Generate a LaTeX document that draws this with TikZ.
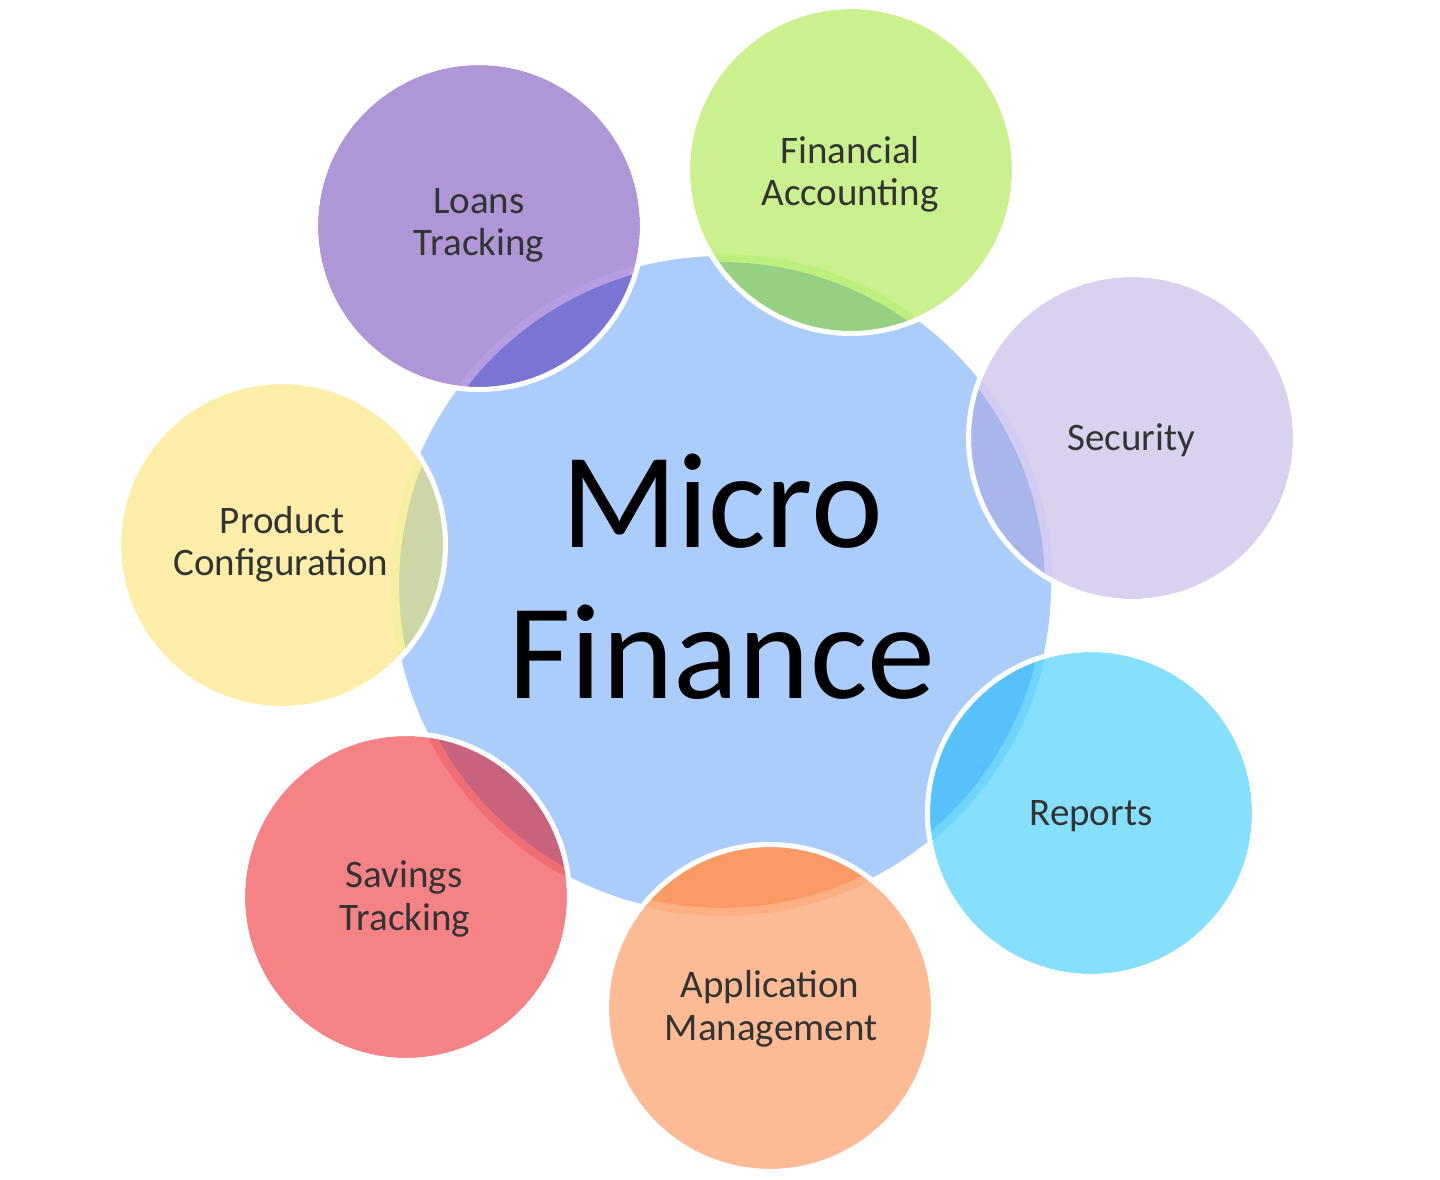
\documentclass[tikz,border=0pt]{standalone}
\usepackage{fontspec}
\setmainfont{Carlito}
\definecolor{cblue}{HTML}{ABCDFB}
\definecolor{txt}{HTML}{333333}
\definecolor{cloans}{HTML}{AF96D6}\definecolor{lloans}{HTML}{7A74D2}\definecolor{bloans}{HTML}{B69CE0}
\definecolor{cfin}{HTML}{CBF18E}\definecolor{lfin}{HTML}{96D183}\definecolor{bfin}{HTML}{BDEF7E}
\definecolor{csec}{HTML}{DAD1EE}\definecolor{lsec}{HTML}{A8B6EC}\definecolor{bsec}{HTML}{D2CDF0}
\definecolor{crep}{HTML}{86E0FD}\definecolor{lrep}{HTML}{56C1FB}\definecolor{brep}{HTML}{6ED5FD}
\definecolor{capp}{HTML}{FCBB94}\definecolor{lapp}{HTML}{FC9A66}\definecolor{bapp}{HTML}{FDAF82}
\definecolor{csav}{HTML}{F58385}\definecolor{lsav}{HTML}{C8627D}\definecolor{bsav}{HTML}{EE6E74}
\definecolor{cprod}{HTML}{FCEEA8}\definecolor{lprod}{HTML}{CDD6A6}\definecolor{bprod}{HTML}{F6EEA0}
\begin{document}
\begin{tikzpicture}[x=1pt,y=-1pt,
  lbl/.style={font=\fontsize{39}{42}\selectfont, text=txt, inner sep=0pt, anchor=base},
  big/.style={font=\fontsize{136}{150}\selectfont, text=black, inner sep=0pt, anchor=base},
  whitering/.style={draw=white, line width=5pt}]
\useasboundingbox (0,0) rectangle (1440,1179);
\coordinate (mf) at (722,585);
\fill[cblue] (mf) circle (329);
\foreach \n/\x/\y/\c/\l/\b in {
  loans/479/226/cloans/lloans/bloans,
  fin/851/170/cfin/lfin/bfin,
  sec/1132/438/csec/lsec/bsec,
  rep/1091/813/crep/lrep/brep,
  app/770/1008/capp/lapp/bapp,
  sav/406/897/csav/lsav/bsav,
  prod/282/545/cprod/lprod/bprod}{
  \coordinate (\n) at (\x,\y);
  \fill[\c] (\n) circle (161);
  \begin{scope}
    \clip (\n) circle (161);
    \fill[\l] (mf) circle (323);
    \draw[\b, line width=8pt] (mf) circle (327);
  \end{scope}
  \draw[whitering] (\n) circle (163.5);
}
\node[big] (micro) at (722,547) {Micro};
\node[big] (finance) at (722,698) {Finance};
\node[lbl] (loansA) at (479,213) {Loans};
\node[lbl] (loansB) at (479,255) {Tracking};
\node[lbl] (finA) at (850,163) {Financial};
\node[lbl] (finB) at (850,205) {Accounting};
\node[lbl] (secA) at (1131,450) {Security};
\node[lbl] (repA) at (1091,825) {Reports};
\node[lbl] (appA) at (770,997) {Application};
\node[lbl] (appB) at (771,1040) {Management};
\node[lbl] (savA) at (404,887) {Savings};
\node[lbl] (savB) at (405,930) {Tracking};
\node[lbl] (prodA) at (282,533) {Product};
\node[lbl] (prodB) at (281,575) {Configuration};
\end{tikzpicture}
\end{document}
